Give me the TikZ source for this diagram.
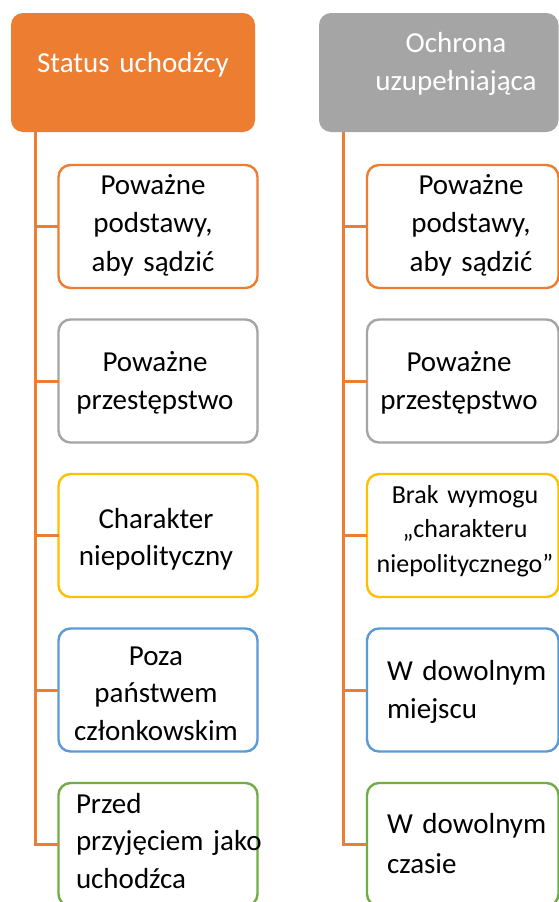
\documentclass[tikz,border=0pt]{standalone}
\usepackage{fontspec}
\setmainfont{Carlito}
\definecolor{orng}{HTML}{ED7D31}
\definecolor{gry}{HTML}{A5A5A5}
\definecolor{yel}{HTML}{FFC000}
\definecolor{blu}{HTML}{5B9BD5}
\definecolor{grn}{HTML}{70AD47}
\begin{document}
\begin{tikzpicture}[x=1pt,y=-1pt,
  hdr/.style={rounded corners=12pt, inner sep=0pt, outer sep=0pt, minimum height=119pt},
  cbox/.style={draw=#1, line width=2.4pt, fill=white, rounded corners=12pt, inner sep=0pt, outer sep=0pt, minimum height=123pt},
  lbox/.style={cbox=#1, minimum width=199pt},
  rbox/.style={cbox=#1, minimum width=191.5pt},
  tx/.style={inner sep=0pt, outer sep=0pt, anchor=base, text width=250pt, align=center, font=\fontsize{29}{#1}\selectfont},
  txl/.style={inner sep=0pt, outer sep=0pt, anchor=base west, text width=200pt, align=left, font=\fontsize{29}{#1}\selectfont},
  conn/.style={draw=orng, line width=3pt}]
\useasboundingbox (0,0) rectangle (559,902);
\fill[white] (0,0) rectangle (559,902);

% headers
\node[hdr, fill=orng, minimum width=244pt] (hL) at (133,72.5) {};
\node[hdr, fill=gry, minimum width=239.5pt] (hR) at (438.75,72.5) {};
\node[tx=38, text=white] (thL) at (133,72) {Status uchodźcy};
\node[tx=38, text=white] (thR) at (456,52) {Ochrona\\uzupełniająca};

% left boxes
\node[lbox=orng] (l1) at (158,226.5) {};
\node[lbox=gry]  (l2) at (158,381) {};
\node[lbox=yel]  (l3) at (158,535.5) {};
\node[lbox=blu]  (l4) at (158,690) {};
\node[lbox=grn]  (l5) at (158,844.5) {};

% right boxes
\node[rbox=orng] (r1) at (462.75,226.5) {};
\node[rbox=gry]  (r2) at (462.75,381) {};
\node[rbox=yel]  (r3) at (462.75,535.5) {};
\node[rbox=blu]  (r4) at (462.75,690) {};
\node[rbox=grn]  (r5) at (462.75,844.5) {};

% connectors
\coordinate (lt) at (35,132);
\coordinate (rt) at (343,132);
\draw[conn] (lt) |- (l5.west);
\draw[conn] (rt) |- (r5.west);
\foreach \i in {1,2,3,4}{
  \draw[conn] (l\i.west) -- (l\i.west -| lt);
  \draw[conn] (r\i.west) -- (r\i.west -| rt);
}

% left texts
\node[tx=38.5] (tl1) at (153,194) {Poważne\\podstawy,\\aby sądzić};
\node[tx=38]   (tl2) at (155,371) {Poważne\\przestępstwo};
\node[tx=37]   (tl3) at (156,528) {Charakter\\niepolityczny};
\node[tx=37.5] (tl4) at (156,665) {Poza\\państwem\\członkowskim};
\node[txl=37.5] (tl5) at (76,813) {Przed\\przyjęciem jako\\uchodźca};

% right texts
\node[tx=38.5] (tr1) at (471,194) {Poważne\\podstawy,\\aby sądzić};
\node[tx=38]   (tr2) at (459,371) {Poważne\\przestępstwo};
\node[tx=34.5, font=\fontsize{26}{34.5}\selectfont] (tr3) at (465,503) {Brak wymogu\\„charakteru\\niepolitycznego”};
\node[txl=38]  (tr4) at (387,680) {W dowolnym\\miejscu};
\node[txl=40]  (tr5) at (387,833) {W dowolnym\\czasie};
\end{tikzpicture}
\end{document}
